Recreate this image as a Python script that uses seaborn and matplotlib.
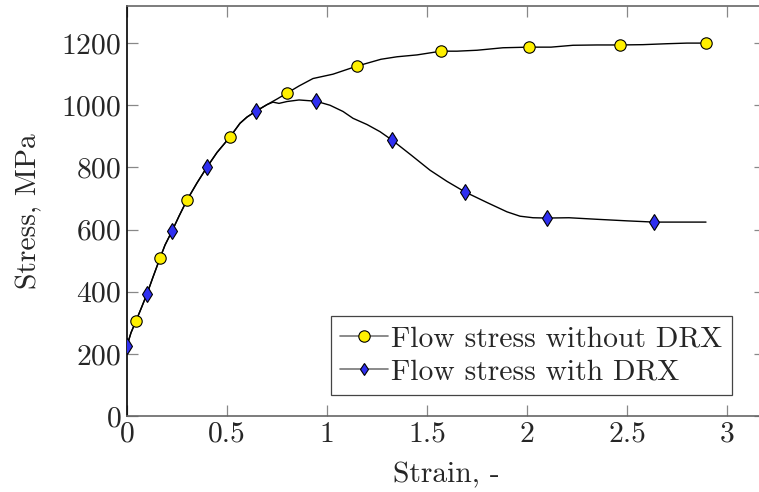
import matplotlib
matplotlib.use("Agg")
import matplotlib.pyplot as plt
import seaborn as sns
import pandas as pd
from matplotlib.lines import Line2D

# Marker points
no_drx_mark_x = [0.045, 0.165, 0.30, 0.515, 0.80, 1.15, 1.57, 2.01, 2.465, 2.895]
no_drx_mark_y = [306, 508, 695, 898, 1039, 1126, 1174, 1187, 1194, 1200]
drx_mark_x = [0.0, 0.10, 0.225, 0.40, 0.645, 0.945, 1.325, 1.69, 2.10, 2.635]
drx_mark_y = [226, 393, 595, 801, 981, 1013, 888, 721, 637, 624]

# Curve points
no_drx_line_x = [0.0, 0.02, 0.045, 0.07, 0.10, 0.13, 0.165, 0.19, 0.225, 0.26, 0.30, 0.35, 0.40, 0.45, 0.515,
                 0.565, 0.60, 0.645, 0.70, 0.75, 0.80, 0.86, 0.93, 1.03, 1.15, 1.27, 1.35, 1.45, 1.57, 1.65,
                 1.75, 1.88, 2.01, 2.12, 2.23, 2.35, 2.465, 2.58, 2.70, 2.80, 2.895]
no_drx_line_y = [226, 268, 306, 345, 393, 447, 508, 550, 595, 643, 695, 750, 801, 848, 898,
                 942, 962, 981, 1002, 1020, 1039, 1062, 1086, 1100, 1126, 1148, 1156, 1162, 1174, 1174,
                 1177, 1185, 1187, 1187, 1193, 1194, 1194, 1195, 1198, 1200, 1200]
drx_line_x = [0.0, 0.02, 0.045, 0.07, 0.10, 0.13, 0.165, 0.19, 0.225, 0.26, 0.30, 0.35, 0.40, 0.45, 0.515,
              0.565, 0.60, 0.645, 0.70, 0.73, 0.76, 0.80, 0.86, 0.945, 1.015, 1.08, 1.13, 1.20, 1.265, 1.325,
              1.42, 1.515, 1.60, 1.69, 1.80, 1.90, 1.965, 2.03, 2.10, 2.21, 2.35, 2.50, 2.635, 2.76, 2.895]
drx_line_y = [226, 268, 306, 345, 393, 447, 508, 550, 595, 643, 695, 750, 801, 848, 898,
              942, 962, 981, 1002, 1010, 1006, 1012, 1017, 1013, 1000, 980, 958, 938, 915, 888,
              840, 791, 755, 721, 687, 657, 643, 638, 637, 638, 633, 628, 624, 624, 624]

labels = ["Flow stress without DRX", "Flow stress with DRX"]
yticks = [0, 200, 400, 600, 800, 1000, 1200]
xticks = [0, 0.5, 1, 1.5, 2, 2.5, 3]
xtick_labels = ["0", "0.5", "1", "1.5", "2", "2.5", "3"]

sns.set_style("white")
plt.rcParams["font.family"] = ["cmr10", "DejaVu Serif"]
plt.rcParams["mathtext.fontset"] = "cm"
plt.rcParams["axes.formatter.use_mathtext"] = True

FS = 21.3

fig = plt.figure(figsize=(7.59, 4.92), dpi=100)
ax = fig.add_axes([127 / 759, (492 - 416) / 492, (765 - 127) / 759, (416 - 5.5) / 492])

yellow = "#FFF000"
blue = "#2F2FF0"

df_a = pd.DataFrame({"x": no_drx_line_x, "y": no_drx_line_y})
df_b = pd.DataFrame({"x": drx_line_x, "y": drx_line_y})
sns.lineplot(data=df_a, x="x", y="y", ax=ax, color="black", lw=1.0, sort=False, estimator=None)
sns.lineplot(data=df_b, x="x", y="y", ax=ax, color="black", lw=1.0, sort=False, estimator=None)

ax.plot(no_drx_mark_x, no_drx_mark_y, ls="none", marker="o", ms=8.2, mfc=yellow, mec="black", mew=0.8, zorder=5)
ax.plot(drx_mark_x, drx_mark_y, ls="none", marker="d", ms=8.0, mfc=blue, mec="black", mew=0.8, zorder=5)

ax.set_xlim(0, 3.19)
ax.set_ylim(0, 1321)
ax.set_xticks(xticks)
ax.set_xticklabels(xtick_labels)
ax.set_yticks(yticks)

ax.tick_params(direction="in", length=8, width=0.9, color="#888888", labelsize=FS,
               top=True, right=True, bottom=True, left=True, pad=4)
for side in ["top", "right", "bottom"]:
    ax.spines[side].set_color("#666666")
    ax.spines[side].set_linewidth(1.2)
ax.spines["left"].set_color("black")
ax.spines["left"].set_linewidth(1.2)

ax.set_xlabel("Strain, -", fontsize=FS, labelpad=10)
ax.set_ylabel("Stress, MPa", fontsize=FS, labelpad=14)

handles = [
    Line2D([], [], color="#777777", lw=1.2, marker="o", ms=8.2, mfc=yellow, mec="black", mew=0.8),
    Line2D([], [], color="#777777", lw=1.2, marker="d", ms=6.5, mfc=blue, mec="black", mew=0.8),
]
leg = ax.legend(handles, labels, loc="lower right",
                fontsize=FS, frameon=True, fancybox=False, edgecolor="#444444", framealpha=1,
                handlelength=1.6, handletextpad=0.1, borderpad=0.33, labelspacing=0.2, borderaxespad=0)
leg.set_bbox_to_anchor((731.7 / 759, (492 - 395) / 492), transform=fig.transFigure)
leg.get_frame().set_linewidth(0.9)

fig.savefig("out.png", dpi=100)
